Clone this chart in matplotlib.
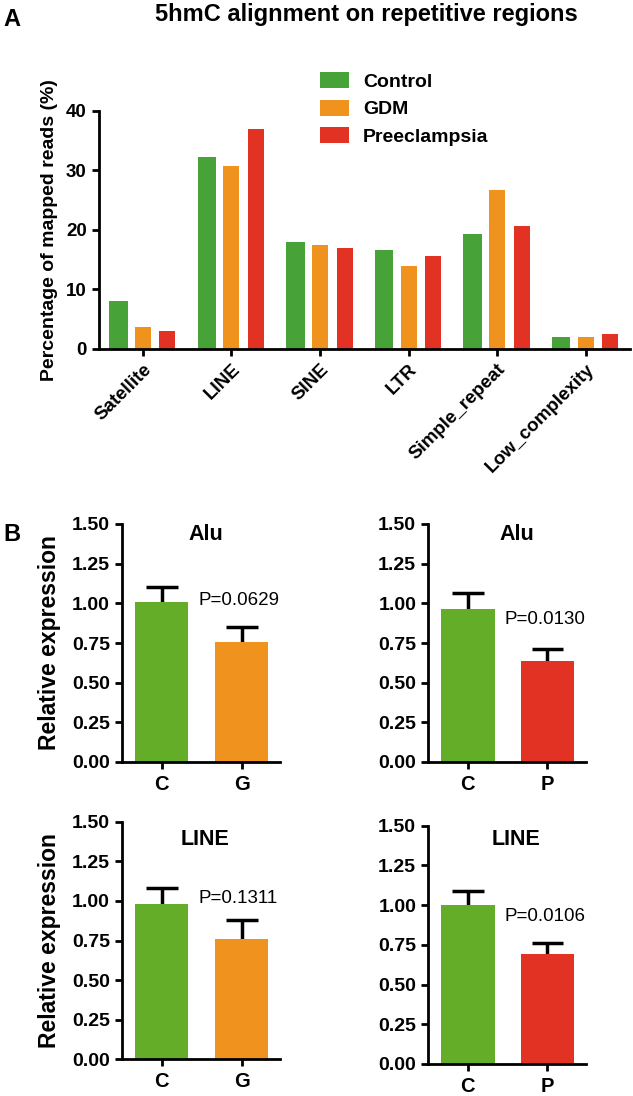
import numpy as np
import matplotlib
matplotlib.use('Agg')
import matplotlib.pyplot as plt
import matplotlib as mpl

mpl.rcParams['font.family'] = ['Liberation Sans', 'DejaVu Sans']
mpl.rcParams['font.weight'] = 'bold'
mpl.rcParams['axes.labelweight'] = 'bold'

# ---- dados painel A ----
regioes = ['Satellite', 'LINE', 'SINE', 'LTR', 'Simple_repeat', 'Low_complexity']
grupos = ['Control', 'GDM', 'Preeclampsia']
control = [8.0, 32.2, 18.0, 16.6, 19.4, 2.1]
gdm = [3.75, 30.7, 17.4, 13.95, 26.7, 2.0]
preeclampsia = [3.0, 36.9, 17.0, 15.6, 20.6, 2.5]

# ---- dados painel B ----
alu_cg = [1.01, 0.758]
alu_cg_sem = [0.09, 0.095]
alu_cp = [0.962, 0.638]
alu_cp_sem = [0.10, 0.072]
line_cg = [0.983, 0.761]
line_cg_sem = [0.097, 0.117]
line_cp = [1.0, 0.69]
line_cp_sem = [0.09, 0.07]
p_vals = ['P=0.0629', 'P=0.0130', 'P=0.1311', 'P=0.0106']

verdeA, laranja, vermelho = '#47a338', '#f0921e', '#e23223'
verdeB = '#64ad28'

W, H = 633, 1096
fig = plt.figure(figsize=[W/100, H/100], dpi=100)

def px(l, b, r, t):
    return [l/W, 1-b/H, (r-l)/W, (b-t)/H]

def estilo(ax):
    ax.spines['top'].set_visible(False)
    ax.spines['right'].set_visible(False)
    for s in ['left', 'bottom']:
        ax.spines[s].set_linewidth(2)
    ax.tick_params(width=2, length=5, colors='black')

# ---- Painel A ----
ax = fig.add_axes(px(98.6, 349, 630, 111))
x = np.arange(len(regioes))
off = 0.277
ax.bar(x-off, control, 0.21, color=verdeA, label=grupos[0])
ax.bar(x, gdm, 0.18, color=laranja, label=grupos[1])
ax.bar(x+off, preeclampsia, 0.18, color=vermelho, label=grupos[2])
ax.set_xlim(-0.5, 5.5)
ax.set_ylim(0, 40)
ax.set_yticks([0, 10, 20, 30, 40])
ax.set_xticks(x)
ax.set_xticklabels(regioes, rotation=45, ha='right', rotation_mode='anchor', fontsize=13.5)
ax.tick_params(axis='y', labelsize=13.5)
estilo(ax)
ax.set_ylabel('Percentage of mapped reads (%)', fontsize=14, labelpad=6)
ax.legend(loc='upper left', bbox_to_anchor=(320/W, 1-72/H), bbox_transform=fig.transFigure,
          frameon=False, fontsize=14, handlelength=1.5, handleheight=0.9,
          handletextpad=0.7, labelspacing=0.45, borderpad=0, borderaxespad=0)
fig.text(366/W, 1-15/H, '5hmC alignment on repetitive regions', fontsize=17,
         ha='center', va='center')
fig.text(12/W, 1-19/H, 'A', fontsize=17, ha='center', va='center')

# ---- Painel B ----
paineis = [
    (px(121.7, 762, 280, 524), alu_cg, alu_cg_sem, ['C', 'G'], laranja, 'Alu', 0.55, 1.435, p_vals[0], 1.016, True),
    (px(428, 762, 585.7, 524), alu_cp, alu_cp_sem, ['C', 'P'], vermelho, 'Alu', 0.62, 1.435, p_vals[1], 0.90, False),
    (px(121.7, 1059.3, 280, 821.7), line_cg, line_cg_sem, ['C', 'G'], laranja, 'LINE', 0.54, 1.385, p_vals[2], 1.016, True),
    (px(428, 1064, 585.7, 825.7), line_cp, line_cp_sem, ['C', 'P'], vermelho, 'LINE', 0.6, 1.41, p_vals[3], 0.93, False),
]
for pos, vals, sem, labs, cor, titulo, tx, ty, ptxt, py, ylab in paineis:
    ax = fig.add_axes(pos)
    xb = np.arange(2)
    vals = np.array(vals)
    sem = np.array(sem)
    ax.vlines(xb, vals, vals+sem, colors='black', linewidth=2.5, zorder=1)
    ax.hlines(vals+sem, xb-0.2, xb+0.2, colors='black', linewidth=2.5, zorder=1)
    ax.bar(xb, vals, 0.67, color=[verdeB, cor], zorder=2)
    ax.set_xlim(-0.5, 1.48)
    ax.set_ylim(0, 1.5)
    ax.set_yticks([0, 0.25, 0.5, 0.75, 1.0, 1.25, 1.5])
    ax.set_yticklabels(['%.2f' % v for v in [0, 0.25, 0.5, 0.75, 1.0, 1.25, 1.5]])
    ax.set_xticks(xb)
    ax.set_xticklabels(labs)
    ax.tick_params(axis='y', labelsize=14)
    ax.tick_params(axis='x', labelsize=14.5, pad=4)
    estilo(ax)
    ax.text(tx, ty, titulo, fontsize=15.5, ha='center', va='center')
    ax.text(0.466, py, ptxt, fontsize=13.5, fontweight='normal', ha='left', va='center')
    if ylab:
        ax.set_ylabel('Relative expression', fontsize=16.5, labelpad=8)

fig.text(12/W, 1-535/H, 'B', fontsize=17, ha='center', va='center')

fig.savefig('out.png', transparent=False)
